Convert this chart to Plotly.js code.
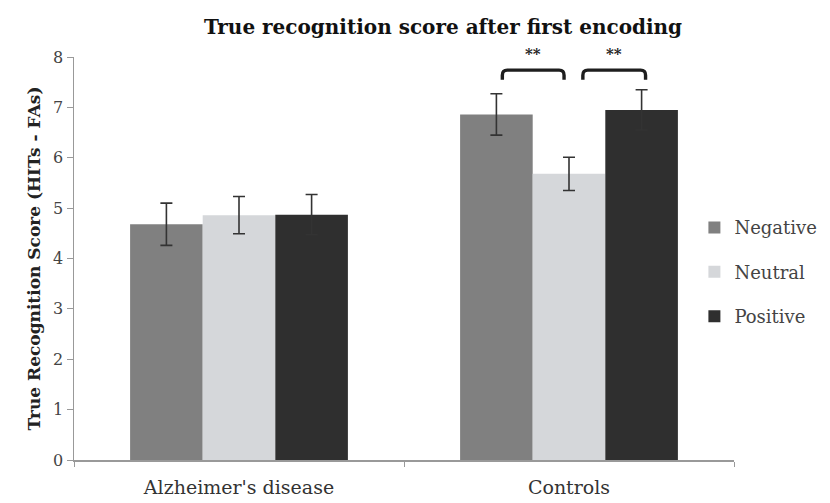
<!DOCTYPE html>
<html>
<head>
<meta charset="utf-8">
<script src="https://cdn.plot.ly/plotly-3.0.1.min.js"></script>
<style>html,body{margin:0;padding:0;background:#fff;}#chart{width:830px;height:503px;}</style>
</head>
<body>
<div id="chart"></div>
<script>
const groups = ["Alzheimer's disease", "Controls"];
const seriesNames = ["Negative", "Neutral", "Positive"];
const negativeVals = [4.68, 6.86];
const neutralVals = [4.86, 5.68];
const positiveVals = [4.87, 6.95];
const negativeErr = [0.42, 0.41];
const neutralErr = [0.37, 0.33];
const positiveErr = [0.40, 0.40];
const yTicks = [0, 1, 2, 3, 4, 5, 6, 7, 8];
const sigLabels = ["**", "**"];
const sigPairs = [[0, 1], [1, 2]]; // series indices within Controls
const sigGroup = 1;

const colors = ["#808080", "#d5d7da", "#2f2f2f"];
const values = [negativeVals, neutralVals, positiveVals];
const errs = [negativeErr, neutralErr, positiveErr];
const serif = "DejaVu Serif, serif";
const yRange = [0, 8];

const bargap = 0.34;
const traces = seriesNames.map((n, i) => ({
  type: 'bar', name: n, x: groups, y: values[i],
  marker: {color: colors[i]},
  legendgroup: n,
  error_y: {type: 'data', array: errs[i], visible: true, color: '#333', thickness: 1.6, width: 6}
}));

// bracket styling (in category-width fractions, relative to bar centres)
const barW = (1 - bargap) / seriesNames.length;
const offs = seriesNames.map((_, i) => (i - (seriesNames.length - 1) / 2) * barW);
const insets = [[0.018, -0.015], [0.042, 0.012]];
const yTop = 7.74, yLeg = 7.55, starY = 8.06;
const shapes = [], annotations = [];
sigPairs.forEach((p, k) => {
  const x0 = sigGroup + offs[p[0]] + insets[k][0];
  const x1 = sigGroup + offs[p[1]] + insets[k][1];
  const r = 0.1, rx = 0.015;
  shapes.push({type: 'path', xref: 'x', yref: 'y',
    path: `M ${x0} ${yLeg} L ${x0} ${yTop - r} Q ${x0} ${yTop} ${x0 + rx} ${yTop} L ${x1 - rx} ${yTop} Q ${x1} ${yTop} ${x1} ${yTop - r} L ${x1} ${yLeg}`,
    line: {color: '#1e1e1e', width: 3.4}});
  annotations.push({xref: 'x', yref: 'paper', x: (x0 + x1) / 2, y: (starY - yRange[0]) / (yRange[1] - yRange[0]),
    text: '<b>' + sigLabels[k] + '</b>', showarrow: false, yanchor: 'middle',
    font: {family: serif, size: 15, color: '#222'}});
});

const layout = {
  width: 830, height: 503,
  margin: {l: 74, r: 96, t: 57, b: 43, autoexpand: false},
  paper_bgcolor: '#fff', plot_bgcolor: '#fff',
  barmode: 'group', bargap: bargap, bargroupgap: 0,
  title: {text: '<b>True recognition score after first encoding</b>', x: 443 / 830, xref: 'container', xanchor: 'center',
    y: 1 - 27 / 503, yanchor: 'middle', yref: 'container',
    font: {family: serif, size: 20, color: '#111'}},
  xaxis: {type: 'category', showline: true, linecolor: '#999', linewidth: 1.5,
    ticks: 'outside', tickson: 'boundaries', ticklen: 5, tickcolor: '#999', ticklabelstandoff: 10,
    tickfont: {family: serif, size: 19, color: '#333'}, showgrid: false, zeroline: false,
    range: [-0.5, 1.5]},
  yaxis: {range: yRange, tickvals: yTicks, showline: true, linecolor: '#999', linewidth: 1.5,
    ticks: 'outside', ticklen: 6, tickcolor: '#999', showgrid: false, zeroline: false,
    tickfont: {family: serif, size: 16, color: '#444'},
    title: {text: '<b>True Recognition Score (HITs - FAs)</b>', standoff: 8,
      font: {family: serif, size: 17, color: '#222'}}},
  legend: {x: 0.94, xanchor: 'left', y: 0.466, yanchor: 'middle', tracegroupgap: 18,
    font: {family: serif, size: 18, color: '#444'}, bgcolor: 'rgba(0,0,0,0)'},
  shapes: shapes, annotations: annotations
};
Plotly.newPlot('chart', traces, layout, {displayModeBar: false, staticPlot: true});
</script>
</body>
</html>
